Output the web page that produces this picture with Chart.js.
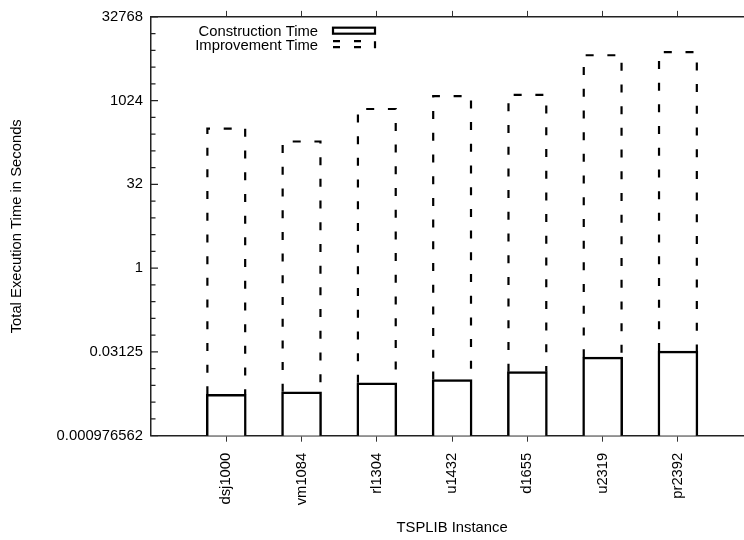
<!DOCTYPE html>
<html>
<head>
<meta charset="utf-8">
<title>TSPLIB execution times</title>
<script src="https://cdn.jsdelivr.net/npm/chart.js@4.4.0/dist/chart.umd.min.js"></script>
<style>
  html, body { margin: 0; padding: 0; background: #fff; overflow: hidden; }
  #wrap { width: 760px; height: 540px; }
</style>
</head>
<body>
<div id="wrap"><canvas id="times-chart"></canvas></div>
<script>
const instances = ['dsj1000', 'vm1084', 'rl1304', 'u1432', 'd1655', 'u2319', 'pr2392'];
const constructionTime = [0.0054, 0.0060, 0.0087, 0.0100, 0.0138, 0.0252, 0.0324];
const improvementTime = [322, 189, 724, 1236, 1305, 6700, 7650];
const yTickExps = [-10, -5, 0, 5, 10, 15];
const yTickLabels = ['0.000976562', '0.03125', '1', '32', '1024', '32768'];

const FONT = { family: "'Liberation Sans', Arial, sans-serif", size: 14.8 };
const INK = '#000';
const AXIS = '#222';

const toPoints = values => values.map((v, i) => ({ x: i, y: v }));
const categoryTicks = scale => { scale.ticks = instances.map((_, i) => ({ value: i })); };

// gnuplot style: y ticks point into the plot, one per power of two
const logTicks = {
  id: 'logTicks',
  afterDraw(chart) {
    const { ctx, chartArea: a, scales: { y } } = chart;
    ctx.save();
    ctx.strokeStyle = AXIS;
    ctx.lineWidth = 1.2;
    y.ticks.forEach(t => {
      const py = y.getPixelForValue(t.value);
      const len = yTickExps.includes(Math.round(Math.log2(t.value))) ? 7 : 4.5;
      ctx.beginPath();
      ctx.moveTo(a.left, py); ctx.lineTo(a.left + len, py);
      ctx.moveTo(a.right, py); ctx.lineTo(a.right - len, py);
      ctx.stroke();
    });
    ctx.restore();
  }
};

// improvement part of each stack is an open dashed box
const dashedBars = {
  id: 'dashedBars',
  afterDatasetsDraw(chart) {
    const ctx = chart.ctx;
    ctx.save();
    ctx.strokeStyle = INK;
    ctx.lineWidth = 2.2;
    ctx.setLineDash([8, 13.7]);
    chart.getDatasetMeta(1).data.forEach(bar => {
      const { x, y, base, width } = bar.getProps(['x', 'y', 'base', 'width'], true);
      const l = x - width / 2 + 1.1, r = x + width / 2 - 1.1;
      ctx.beginPath();
      ctx.moveTo(l, base);
      ctx.lineTo(l, y);
      ctx.lineTo(r, y);
      ctx.lineTo(r, base);
      ctx.stroke();
    });
    ctx.restore();
  }
};

// key in the top left corner, text first then the sample box
const keyBox = {
  id: 'keyBox',
  afterDraw(chart) {
    const { ctx, chartArea: a } = chart;
    const textRight = a.left + 167, sx = a.left + 182, sw = 42, sh = 6;
    const rows = [a.top + 14.8, a.top + 28.8];
    ctx.save();
    ctx.font = `${FONT.size}px ${FONT.family}`;
    ctx.fillStyle = INK;
    ctx.textAlign = 'right';
    ctx.textBaseline = 'middle';
    chart.data.datasets.forEach((ds, i) => ctx.fillText(ds.label, textRight, rows[i]));

    ctx.strokeStyle = INK;
    ctx.lineWidth = 2.2;
    ctx.strokeRect(sx, rows[0] - 1 - sh / 2, sw, sh);

    const top = rows[1] - 1.5 - sh / 2, bot = top + sh;
    ctx.setLineDash([7, 14]);
    ctx.beginPath();
    ctx.moveTo(sx, top); ctx.lineTo(sx + sw, top);
    ctx.moveTo(sx, bot); ctx.lineTo(sx + sw, bot);
    ctx.moveTo(sx + sw, top); ctx.lineTo(sx + sw, bot + 8);
    ctx.stroke();
    ctx.restore();
  }
};

new Chart(document.getElementById('times-chart'), {
  type: 'bar',
  data: {
    datasets: [
      {
        label: 'Construction Time',
        data: toPoints(constructionTime),
        backgroundColor: '#fff',
        borderColor: INK,
        borderWidth: 2.5,
        barThickness: 40
      },
      {
        label: 'Improvement Time',
        data: toPoints(improvementTime),
        backgroundColor: 'rgba(0,0,0,0)',
        borderWidth: 0,
        barThickness: 40
      }
    ]
  },
  options: {
    responsive: true,
    maintainAspectRatio: false,
    animation: false,
    layout: { padding: { left: 0, top: 0, right: 6.8, bottom: 0 } },
    plugins: { legend: { display: false }, tooltip: { enabled: false } },
    scales: {
      x: {
        type: 'linear',
        position: 'bottom',
        min: -1,
        max: 7,
        offset: false,
        stacked: true,
        afterBuildTicks: categoryTicks,
        afterFit: s => { s.height = 104.3; },
        grid: { display: true, drawOnChartArea: false, drawTicks: true, tickLength: 6, color: '#333', offset: false },
        border: { display: true, color: AXIS, width: 1.5 },
        ticks: {
          autoSkip: false, minRotation: 90, maxRotation: 90, padding: 11,
          color: INK, font: FONT, callback: v => instances[v]
        },
        title: { display: true, text: 'TSPLIB Instance', color: INK, font: FONT, padding: { top: 0, bottom: 2.8 } }
      },
      x2: {
        type: 'linear',
        position: 'top',
        min: -1,
        max: 7,
        offset: false,
        afterBuildTicks: categoryTicks,
        afterFit: s => { s.height = 14.7; },
        grid: { display: true, drawOnChartArea: false, drawTicks: true, tickLength: 6, color: '#333', offset: false },
        border: { display: true, color: AXIS, width: 1.5 },
        ticks: { display: false }
      },
      y: {
        type: 'logarithmic',
        position: 'left',
        min: 2 ** -10,
        max: 2 ** 15,
        stacked: true,
        afterBuildTicks: s => {
          s.ticks = [];
          for (let k = -10; k <= 15; k++) s.ticks.push({ value: 2 ** k });
        },
        afterFit: s => { s.width = 151; },
        grid: { display: true, drawOnChartArea: false, drawTicks: false },
        border: { display: true, color: AXIS, width: 1.5 },
        ticks: {
          autoSkip: false, padding: 8, color: INK, font: FONT,
          callback: v => {
            const i = yTickExps.indexOf(Math.round(Math.log2(v)));
            return i < 0 ? '' : yTickLabels[i];
          }
        },
        title: { display: true, text: 'Total Execution Time in Seconds', color: INK, font: FONT, padding: { top: 8.3, bottom: 0 } }
      }
    }
  },
  plugins: [logTicks, dashedBars, keyBox]
});
</script>
</body>
</html>
